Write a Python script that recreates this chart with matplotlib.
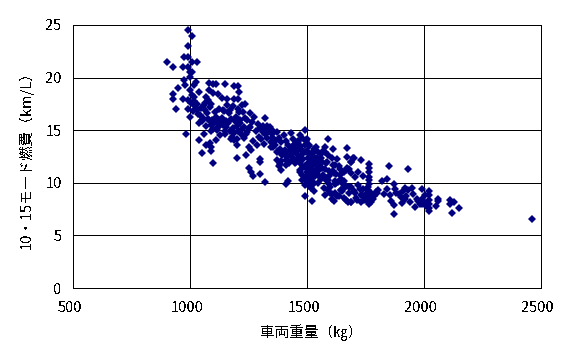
import matplotlib
matplotlib.use("Agg")
import matplotlib.pyplot as plt
from matplotlib.transforms import ScaledTranslation

plt.rcParams['font.family'] = ['Noto Sans CJK JP', 'DejaVu Sans']
plt.rcParams['text.antialiased'] = False

weight_light = [991,1008,991,976,991,901,929,969,991,1008,1029,1001,1008,976,1001,1026,1019,979,1083,1098,1112,1149,1186,1203,1209,948,929,929,1001,1038,1080,969,991,1019,1098,1119,1137,1157,1186,1203,1069,1078,1090,1029,1236,1223,941,991,
 1001,1012,1022,1035,1045,1055,1062,1072,1085,1095,1105,1115,1125,1135,1145,1155,1165,1175,1185,1195,1205,1215,1225,1235,1245,1255,1265,1275,
 1005,1018,1030,1042,1052,1065,1075,1088,1100,1110,1122,1132,1142,1152,1162,1172,1182,1192,1202,1212,1222,1232,1242,1252,
 1040,1050,1060,1070,1080,1090,1100,1110,1120,1130,1140,1150,1160,1170,1180,1190,1200,1210,1220,1230,1240,
 1059,1038,1110,1069,1089,1089,1051,1098,1150,1187,1199,1200,1240,1298,1298,1251,1259,1269,1298,1320,1320,1311,1328,1270,1285,1262,1250,985,
 1010,1130,1085,1115,1175,1205,1255]
economy_light = [24.5,24.0,23.0,22.0,22.0,21.45,21.0,21.0,21.0,21.45,21.45,20.5,20.5,19.8,20.1,19.6,19.3,19.3,19.5,19.4,19.4,19.4,19.2,19.2,18.6,19.0,18.4,18.0,18.8,18.6,18.8,18.0,17.9,18.2,18.5,18.4,18.1,18.0,18.0,18.0,18.2,17.9,17.5,17.5,17.5,17.4,17.0,17.0,
 16.3,16.8,17.3,16.5,17.1,16.2,17.6,16.6,17.2,16.0,16.7,15.8,17.0,16.2,16.8,15.9,16.6,16.1,17.3,16.3,17.0,16.0,16.7,16.2,16.0,16.6,15.8,16.3,
 17.6,17.8,16.9,16.4,15.9,16.9,16.1,15.5,15.6,16.3,15.4,15.8,16.9,15.3,15.7,16.9,15.2,15.9,15.4,15.7,15.1,15.3,14.8,15.2,
 15.7,16.0,17.4,15.4,16.0,14.9,15.1,15.9,15.3,16.0,15.5,14.9,17.4,14.9,14.4,14.7,14.2,16.7,14.6,14.3,14.6,
 14.6,14.05,14.05,13.6,13.4,13.0,12.8,11.9,14.6,14.05,13.6,12.4,12.6,12.3,12.0,11.4,11.0,10.6,10.8,10.05,16.2,15.4,15.4,14.0,13.6,13.1,13.4,14.6,
 18.3,14.5,13.8,15.0,14.2,14.9,15.3]

weight_mid = [1385,1380,1388,1418,1411,1340,1350,1360,1370,1380,1390,1400,1410,1420,1430,1440,1450,1460,1470,1480,1491,1345,1355,1365,1375,1385,1395,1405,1415,1425,1435,1445,1455,1465,1475,1485,1495,1350,1362,1372,1392,1402,1412,1422,1432,1442,1452,1462,1472,1482,1492,1370,1390,1410,1430,1450,1470,1490,1440,1460,1480,1500,1430,1450,1470,1490,
 1500,1505,1510,1515,1520,1525,1530,1535,1540,1545,1550,1555,1560,1500,1506,1512,1518,1524,1530,1536,1542,1548,1554,1560,1498,1504,1510,1516,1522,1528,1534,1540,1546,1552,1558,1500,1508,1516,1524,1532,1540,1548,1556,1470,1480,1490,1500,1510,1520,1530,1540,1480,1492,1504,1516,1528,1491,1521,1538,1528,1510,1495,1500,1515,1530,1545]
economy_mid = [11.8,11.6,11.2,10.2,9.9,15.0,14.6,14.2,14.8,14.3,13.9,14.5,14.0,13.6,14.7,14.2,13.7,14.0,13.5,13.1,15.0,13.9,13.4,13.6,13.0,13.2,12.7,13.1,12.5,12.9,12.2,13.3,12.8,13.2,12.6,12.3,14.1,14.3,14.0,12.9,12.6,12.8,12.2,11.9,12.6,12.4,12.0,12.4,11.9,11.5,12.9,12.2,12.1,11.7,13.0,13.7,14.5,13.6,13.5,13.8,14.3,14.2,13.2,11.9,11.2,11.6,
 13.0,12.4,13.5,12.0,12.8,11.7,12.2,13.0,11.8,12.3,11.5,12.0,12.7,11.3,11.9,10.9,12.5,11.2,11.9,10.6,12.4,11.1,11.8,10.4,11.0,10.4,11.6,10.1,11.2,12.2,10.8,12.1,11.4,10.6,12.0,10.7,10.6,11.1,9.9,10.7,10.9,10.0,11.4,11.0,10.7,10.4,10.1,9.7,10.5,10.0,11.2,10.3,9.8,9.9,9.5,9.2,8.75,8.3,13.4,13.2,13.6,14.0,12.9,12.7,12.5,12.9]

weight_upper = [1589,1670,1670,1696,1687,1610,1579,1687,1699,1690,1730,1850,1931,1767,1679,1690,1717,1703,1739,1767,1767,1565,1575,1585,1595,1605,1615,1625,1635,1645,1655,1665,1570,1580,1590,1600,1610,1620,1630,1640,1650,1660,1670,1572,1584,1596,1608,1620,1632,1644,1656,1668,1680,1575,1590,1605,1620,1635,1650,1665,1680,1600,1615,1630,1645,1660,1675,1690,
 1700,1710,1720,1730,1740,1750,1760,1767,1775,1785,1795,1805,1705,1715,1725,1735,1745,1755,1765,1772,1780,1790,1750,1757,1763,1770,1776,1760,1767,1689,1730,1767,1767,1767,1767,1767,1767,
 1820,1841,1871,1878,1841,1917,1948,1931,1992,2021,1828,1798,1853,1860,1871,1871,1902,1917,1939,1961,1969,1992,1992,2021,2021,2021,2021,2021,2059,2059,2052,2112,2112,2127,2119,2149,2461,1880,1895,1910,1925,1975,1985,2005,2010,1905,1955,2000]
economy_upper = [14.2,13.3,12.5,12.4,12.0,13.2,13.4,8.2,12.4,12.0,12.2,11.6,11.35,11.8,11.35,10.9,11.0,10.55,10.6,11.0,10.55,12.0,11.3,10.5,9.9,12.4,10.9,10.0,11.6,10.4,9.4,11.2,13.0,10.3,12.6,9.6,11.1,9.9,12.3,10.7,9.2,10.2,11.4,9.5,12.0,10.6,8.9,11.7,10.1,9.3,11.0,9.7,9.0,8.8,9.3,8.5,9.0,8.7,10.0,8.4,9.6,9.0,8.3,8.7,9.3,8.6,8.2,9.6,
 9.2,8.6,9.8,8.8,9.4,8.5,9.6,8.4,9.0,8.7,9.1,9.3,9.0,8.4,9.4,8.8,8.4,9.0,8.6,8.2,8.5,8.9,8.8,8.3,8.6,8.2,8.5,9.3,9.0,8.2,8.2,8.0,8.3,8.6,9.9,10.3,11.4,
 10.2,10.4,9.9,9.45,9.45,9.5,9.5,9.3,9.45,9.2,8.9,9.0,8.8,8.3,7.85,7.0,8.65,8.5,8.2,7.7,8.5,8.5,7.95,8.8,8.4,8.0,7.6,7.3,8.5,8.25,7.75,8.4,7.95,8.2,7.15,7.6,6.6,9.0,8.9,9.2,8.7,8.3,8.0,8.8,7.8,8.1,8.9,8.2]

weight_extra = [1290,1300,1310,1320,1330,1305,1325,1335,1340,1345,1355,1315,1280,1295,1565,1580,1595,1610,1625,1640,1570,1590,1605,1620,1560,1575]
economy_extra = [15.6,15.2,14.8,14.6,14.3,14.2,15.0,14.8,15.3,13.4,14.9,13.7,14.9,14.4,11.4,11.9,11.1,11.7,10.8,11.3,10.7,10.3,11.0,10.2,12.4,12.9]

x_ticks = [500,1000,1500,2000,2500]
y_ticks = [0,5,10,15,20,25]

fig = plt.figure(figsize=(5.75,3.58), dpi=100)
ax = fig.add_axes([73.0/575, 1-288.0/358, 468/575, 263/358])
ax.set_xlim(500,2500)
ax.set_ylim(0,25)
ax.set_xticks(x_ticks)
ax.set_yticks(y_ticks)
ax.grid(True, color='black', lw=0.72, antialiased=False)
ax.set_axisbelow(True)
for s in ax.spines.values():
    s.set_linewidth(0.72)
    s.set_color('black')
    s.set_antialiased(False)
ax.tick_params(length=0, labelsize=10.5, pad=8)
ax.tick_params(axis='x', pad=9)
shift = ScaledTranslation(-3/100, 0, fig.dpi_scale_trans)
for lab in ax.get_xticklabels():
    lab.set_transform(lab.get_transform() + shift)
for xs, ys in [(weight_light, economy_light), (weight_mid, economy_mid), (weight_upper, economy_upper), (weight_extra, economy_extra)]:
    ax.plot(xs, ys, ls='none', marker='D', ms=3.9, mfc='#000080', mec='#000080', mew=0, clip_on=False, antialiased=False)
ax.set_xlabel('車両重量（㎏）', fontsize=10.5, labelpad=7, x=0.51)
ax.set_ylabel('10・15モード燃費（km/L）', fontsize=10.5, labelpad=8.5)
fig.savefig('out.png', dpi=100)
